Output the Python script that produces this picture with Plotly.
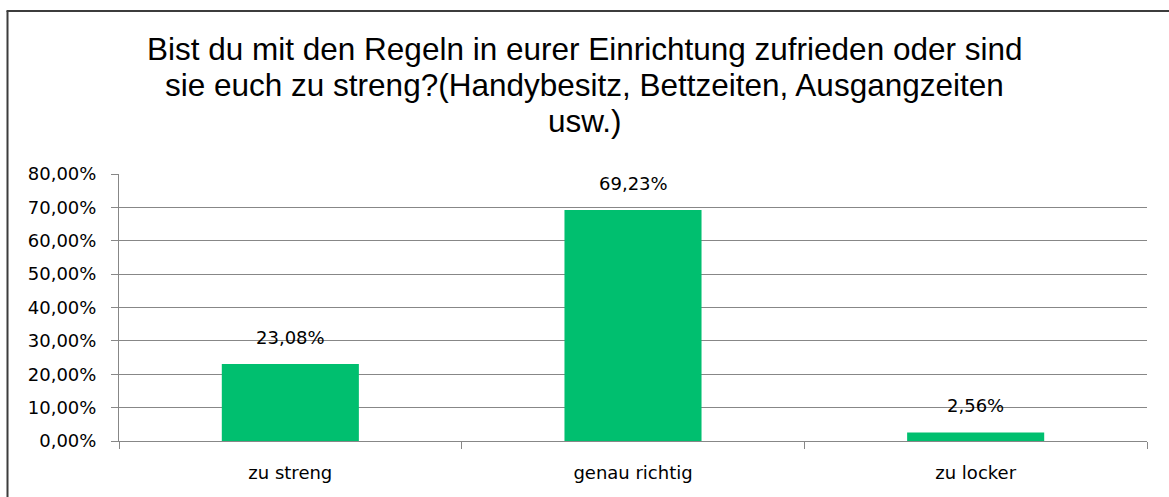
import plotly.graph_objects as go

# Survey answers and their shares
categories = ["zu streng", "genau richtig", "zu locker"]
shares = [0.2308, 0.6923, 0.0256]
title_lines = [
    "Bist du mit den Regeln in eurer Einrichtung zufrieden oder sind",
    "sie euch zu streng?(Handybesitz, Bettzeiten, Ausgangzeiten",
    "usw.)",
]

W, H = 1169, 497
M_L, M_R, M_T, M_B = 119, 22, 174, 56
plot_w = W - M_L - M_R
plot_h = H - M_T - M_B

BAR_COLOR = "#00BF6F"
GRID = "#878787"
FRAME = "#3c3c3c"
LABEL_FONT = dict(family="DejaVu Sans", size=18, color="#000000")


def px_to_paper_x(px):
    return (px - M_L) / plot_w


def px_to_paper_y(py):
    return (H - M_B - py) / plot_h


def de_percent(v):
    return f"{v * 100:.2f}".replace(".", ",") + "%"


fig = go.Figure(
    go.Bar(
        x=categories,
        y=shares,
        marker=dict(color=BAR_COLOR, line=dict(width=0)),
        hoverinfo="skip",
    )
)

annotations = []
# value labels above each bar
for c, v in zip(categories, shares):
    annotations.append(
        dict(
            x=c, y=v, xref="x", yref="y",
            text=de_percent(v), showarrow=False,
            yanchor="bottom", yshift=14,
            font=LABEL_FONT,
        )
    )

# chart title, one annotation per line
title_centers = [49, 85, 121]
for line, cy in zip(title_lines, title_centers):
    annotations.append(
        dict(
            x=px_to_paper_x(W / 2), y=px_to_paper_y(cy),
            xref="paper", yref="paper",
            text=line, showarrow=False,
            xanchor="center", yanchor="middle",
            font=dict(family="Liberation Sans, Arial", size=31.5, color="#000000"),
        )
    )

# outer chart frame: only the left and top edges fall inside the page
frame_left = dict(
    type="line", xref="paper", yref="paper",
    x0=px_to_paper_x(7.5), x1=px_to_paper_x(7.5),
    y0=px_to_paper_y(H + 5), y1=px_to_paper_y(11),
    line=dict(color=FRAME, width=2), layer="above",
)
frame_top = dict(
    type="line", xref="paper", yref="paper",
    x0=px_to_paper_x(6.5), x1=px_to_paper_x(W + 5),
    y0=px_to_paper_y(11), y1=px_to_paper_y(11),
    line=dict(color=FRAME, width=2), layer="above",
)

fig.update_layout(
    width=W, height=H,
    margin=dict(l=M_L, r=M_R, t=M_T, b=M_B, pad=0),
    paper_bgcolor="white",
    plot_bgcolor="white",
    separators=",.",
    bargap=0.6,
    showlegend=False,
    annotations=annotations,
    shapes=[frame_left, frame_top],
)

fig.update_xaxes(
    showline=True, linecolor=GRID, linewidth=1,
    ticks="outside", tickson="boundaries", ticklen=7, tickcolor=GRID,
    showgrid=False,
    tickfont=LABEL_FONT,
    ticklabelstandoff=15,
)

fig.update_yaxes(
    range=[0, 0.8], dtick=0.1, tickformat=".2%",
    showline=True, linecolor=GRID, linewidth=1,
    ticks="outside", ticklen=7, tickcolor=GRID,
    showgrid=True, gridcolor=GRID, gridwidth=1,
    zeroline=True, zerolinecolor=GRID, zerolinewidth=1,
    tickfont=LABEL_FONT,
    ticklabelstandoff=11,
)

# keep the page itself from scrolling
page_js = (
    "document.documentElement.style.overflow='hidden';"
    "document.body.style.overflow='hidden';"
    "document.body.style.margin='0';"
)

fig.write_html("out.html", config={"displayModeBar": False}, post_script=page_js)
